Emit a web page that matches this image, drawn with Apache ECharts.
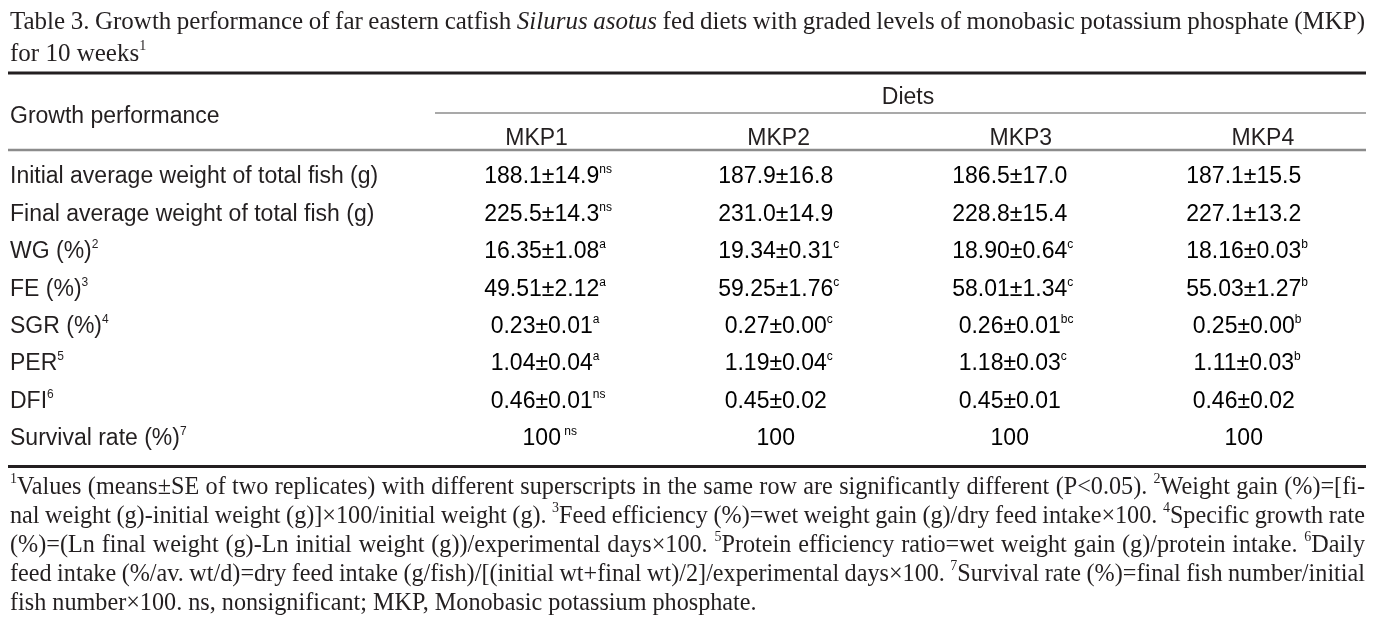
<!DOCTYPE html>
<html><head><meta charset="utf-8">
<script src="https://cdn.jsdelivr.net/npm/echarts@6/dist/echarts.min.js"></script>
<style>html,body{margin:0;padding:0;background:#fff}#c{width:1384px;height:635px}</style>
</head><body><div id="c"></div>
<script>
// ---------- data ----------
const titleLines = [
  'Table 3. Growth performance of far eastern catfish {i|Silurus} {i|asotus} fed diets with graded levels of monobasic potassium phosphate (MKP)',
  'for 10 weeks{s|1}'
];
const columnGroup = 'Diets';
const stubHeader = 'Growth performance';
const diets = ['MKP1', 'MKP2', 'MKP3', 'MKP4'];
const rowLabels = ['Initial average weight of total fish (g)', 'Final average weight of total fish (g)', 'WG (%)', 'FE (%)', 'SGR (%)', 'PER', 'DFI', 'Survival rate (%)'];
const rowNotes = ['', '', '2', '3', '4', '5', '6', '7'];
const mkp1Values = ['188.1±14.9', '225.5±14.3', '16.35±1.08', '49.51±2.12', '0.23±0.01', '1.04±0.04', '0.46±0.01', '100'];
const mkp1Letters = ['ns', 'ns', 'a', 'a', 'a', 'a', 'ns', ' ns'];
const mkp2Values = ['187.9±16.8', '231.0±14.9', '19.34±0.31', '59.25±1.76', '0.27±0.00', '1.19±0.04', '0.45±0.02', '100'];
const mkp2Letters = ['', '', 'c', 'c', 'c', 'c', '', ''];
const mkp3Values = ['186.5±17.0', '228.8±15.4', '18.90±0.64', '58.01±1.34', '0.26±0.01', '1.18±0.03', '0.45±0.01', '100'];
const mkp3Letters = ['', '', 'c', 'c', 'bc', 'c', '', ''];
const mkp4Values = ['187.1±15.5', '227.1±13.2', '18.16±0.03', '55.03±1.27', '0.25±0.00', '1.11±0.03', '0.46±0.02', '100'];
const mkp4Letters = ['', '', 'b', 'b', 'b', 'b', '', ''];
const footnoteLines = [
  '{s|1}Values (means±SE of two replicates) with different superscripts in the same row are significantly different (P<0.05). {s|2}Weight gain (%)=[fi-',
  'nal weight (g)-initial weight (g)]×100/initial weight (g). {s|3}Feed efficiency (%)=wet weight gain (g)/dry feed intake×100. {s|4}Specific growth rate',
  '(%)=(Ln final weight (g)-Ln initial weight (g))/experimental days×100. {s|5}Protein efficiency ratio=wet weight gain (g)/protein intake. {s|6}Daily',
  'feed intake (%/av. wt/d)=dry feed intake (g/fish)/[(initial wt+final wt)/2]/experimental days×100. {s|7}Survival rate (%)=final fish number/initial',
  'fish number×100. ns, nonsignificant; MKP, Monobasic potassium phosphate.'
];

// ---------- layout / style ----------
const INK = '#231f20';
const SANS = "'Liberation Sans', Arial, sans-serif";
const SERIF = "'Liberation Serif', 'Times New Roman', serif";
const cellSize = 23, supSize = 12;
const titleSize = 25, noteSize = 24.2;

const valueCols = [mkp1Values, mkp2Values, mkp3Values, mkp4Values];
const letterCols = [mkp1Letters, mkp2Letters, mkp3Letters, mkp4Letters];

const mctx = document.createElement('canvas').getContext('2d');
function measure(t, font) { mctx.font = font; return mctx.measureText(t).width; }

function serifFonts(size) {
  const ss = Math.round(size * 0.58);
  return {
    n: { font: size + 'px ' + SERIF, style: 'normal', size: size, dy: 0 },
    i: { font: 'italic ' + size + 'px ' + SERIF, style: 'italic', size: size, dy: 0 },
    s: { font: ss + 'px ' + SERIF, style: 'normal', size: ss, dy: -Math.round(size * 0.33) }
  };
}
function parseWords(line) {
  return line.split(' ').map(w => {
    const segs = []; const re = /\{(\w)\|([^}]*)\}|([^{]+)/g; let m;
    while ((m = re.exec(w))) { if (m[3] !== undefined) segs.push({ t: m[3], k: 'n' }); else segs.push({ t: m[2], k: m[1] }); }
    return segs;
  });
}
function setLine(line, x0, x1, yMid, size, justify) {
  const F = serifFonts(size);
  const words = parseWords(line);
  const widths = words.map(w => w.reduce((s, g) => s + measure(g.t, F[g.k].font), 0));
  const total = widths.reduce((a, b) => a + b, 0);
  const space = measure(' ', F.n.font);
  const gap = justify && words.length > 1 ? (x1 - x0 - total) / (words.length - 1) : space;
  const out = []; let x = x0;
  words.forEach((w, i) => {
    w.forEach(g => {
      const f = F[g.k];
      out.push({ type: 'text', silent: true, style: { text: g.t, x: x, y: yMid + f.dy, fontSize: f.size, fontFamily: SERIF, fontStyle: f.style, fill: INK, align: 'left', verticalAlign: 'middle' } });
      x += measure(g.t, f.font);
    });
    x += gap;
  });
  return out;
}

const LEFT = 10, RIGHT = 1365;
const graphics = [];
graphics.push(...setLine(titleLines[0], LEFT, RIGHT, 22, titleSize, true));
graphics.push(...setLine(titleLines[1], LEFT, RIGHT, 54, titleSize, false));
const noteY = [487.5, 516.5, 545.5, 574.5, 603.5];
footnoteLines.forEach((l, i) => graphics.push(...setLine(l, LEFT, RIGHT, noteY[i], noteSize, i < footnoteLines.length - 1)));

function rule(x1, x2, y, w, c) {
  return { type: 'line', silent: true, shape: { x1: x1, y1: y, x2: x2, y2: y }, style: { stroke: c, lineWidth: w } };
}
graphics.push(rule(8, 1366, 73, 3, INK));
graphics.push(rule(435, 1366, 113, 1.2, '#555'));
graphics.push(rule(8, 1366, 150, 2.5, '#8c8c8c'));
graphics.push(rule(8, 1366, 466.5, 3, INK));
graphics.push({ type: 'text', silent: true, style: { text: stubHeader, x: LEFT, y: 117, fontSize: cellSize, fontFamily: SANS, fill: INK, align: 'left', verticalAlign: 'middle' } });
graphics.push({ type: 'text', silent: true, style: { text: columnGroup, x: 908, y: 98, fontSize: cellSize, fontFamily: SANS, fill: INK, align: 'center', verticalAlign: 'middle' } });

const richCell = {
  n: { fontSize: cellSize, fontFamily: SANS, color: INK, lineHeight: 26 },
  s: { fontSize: supSize, fontFamily: SANS, color: INK, lineHeight: 18, verticalAlign: 'top' }
};

const cellData = [];
diets.forEach((d, c) => rowLabels.forEach((r, i) => cellData.push([c, i])));

const GRID_LEFT = 424.75, GRID_W = 936, GRID_TOP = 158.3, GRID_H = 299.4;
const HEAD_LEFT = 415.5, HEAD_W = 976;

const chart = echarts.init(document.getElementById('c'), null, { renderer: 'canvas' });
chart.setOption({
  animation: false,
  backgroundColor: '#fff',
  grid: [
    { left: GRID_LEFT, width: GRID_W, top: GRID_TOP, height: GRID_H, containLabel: false },
    { left: HEAD_LEFT, width: HEAD_W, top: GRID_TOP, height: GRID_H, containLabel: false }
  ],
  xAxis: [{
    type: 'category', data: diets, gridIndex: 0,
    axisLine: { show: false }, axisTick: { show: false }, splitLine: { show: false }, axisLabel: { show: false }
  }, {
    type: 'category', data: diets, position: 'top', gridIndex: 1,
    axisLine: { show: false }, axisTick: { show: false }, splitLine: { show: false },
    axisLabel: { margin: 8, fontSize: cellSize, fontFamily: SANS, color: INK, lineHeight: 23 }
  }],
  yAxis: [{
    type: 'category', data: rowLabels, inverse: true, gridIndex: 0,
    axisLine: { show: false }, axisTick: { show: false }, splitLine: { show: false },
    axisLabel: {
      align: 'left', margin: GRID_LEFT - LEFT,
      formatter: (v, i) => rowNotes[i] ? '{n|' + v + '}{s|' + rowNotes[i] + '}' : '{n|' + v + '}',
      rich: richCell
    }
  }, {
    type: 'category', data: rowLabels, inverse: true, gridIndex: 1, show: false
  }],
  series: [{
    type: 'custom', silent: true, data: cellData, xAxisIndex: 0, yAxisIndex: 0,
    renderItem: function (params, api) {
      const c = api.value(0), r = api.value(1);
      const p = api.coord([c, r]);
      const val = valueCols[c][r], sup = letterCols[c][r];
      const w = measure(val, cellSize + 'px ' + SANS);
      return {
        type: 'text',
        style: {
          text: sup ? '{n|' + val + '}{s|' + sup + '}' : '{n|' + val + '}',
          rich: richCell, x: p[0] - w / 2, y: p[1], align: 'left', verticalAlign: 'middle'
        }
      };
    }
  }],
  graphic: { elements: graphics }
});
</script>
</body></html>
